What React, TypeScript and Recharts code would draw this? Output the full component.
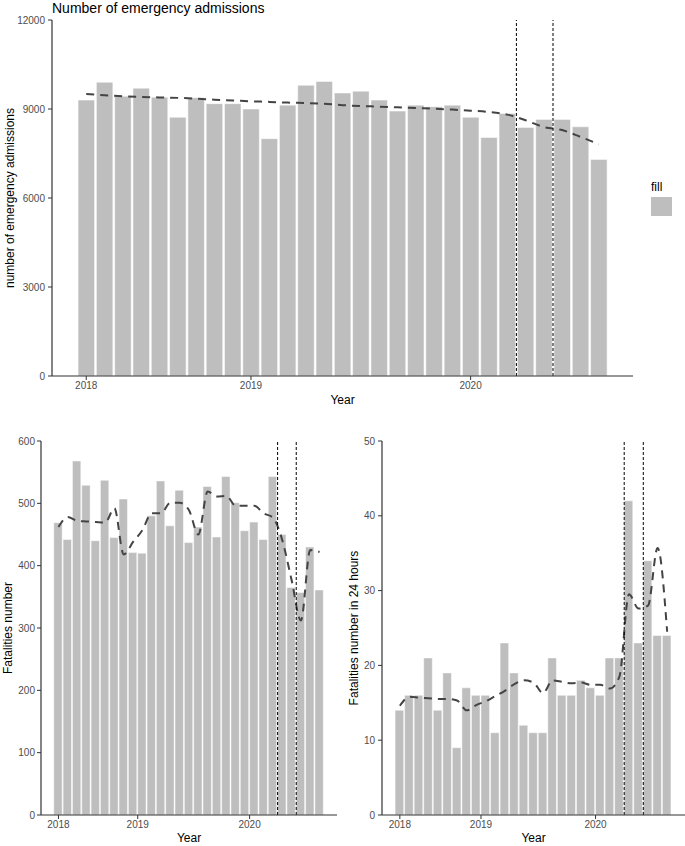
import React from 'react';
import { ComposedChart, Bar, Line, XAxis, YAxis, ReferenceLine } from 'recharts';

// monthly observations, bar positions 0..28 on the x scale
const admissions = [9300, 9900, 9430, 9700, 9400, 8720, 9380, 9180, 9180, 9000, 8000, 9130, 9800, 9930, 9540, 9600, 9300, 8930, 9130, 9080, 9130, 8720, 8040, 8850, 8380, 8650, 8650, 8400, 7300];
const admissionsTrend = [9505, 9465, 9430, 9405, 9390, 9375, 9350, 9315, 9290, 9260, 9240, 9215, 9200, 9175, 9130, 9100, 9080, 9055, 9030, 9010, 8980, 8945, 8900, 8810, 8620, 8390, 8290, 8060, 7810];

const fatalities = [469, 442, 568, 529, 440, 537, 445, 507, 421, 420, 480, 536, 464, 521, 437, 462, 527, 446, 543, 501, 456, 470, 442, 543, 450, 365, 357, 430, 361];
const fatalitiesTrend = [462, 478, 472, 471, 470, 469, 492, 418, 438, 457, 484, 484, 501, 501, 489, 450, 519, 511, 512, 496, 496, 496, 484, 477, 441, 377, 312, 425, 422];

const fatal24h = [14, 16, 16, 21, 14, 19, 9, 17, 16, 16, 11, 23, 19, 12, 11, 11, 21, 16, 16, 18, 17, 16, 21, 21, 42, 23, 34, 24, 24];
const fatal24hTrend = [14.6, 15.8, 15.7, 15.6, 15.5, 15.5, 15.3, 14.0, 14.7, 15.2, 15.9, 16.6, 17.5, 18.0, 17.7, 16.3, 18.0, 17.8, 17.6, 17.7, 17.4, 17.4, 16.9, 18.5, 29.5, 27.6, 28.0, 35.7, 24.5];

const yearLabels = ['2018', '2019', '2020'];
const topYearTicks = [0, 9, 21];
const bottomYearTicks = [0, 8.5, 20.5];

// lockdown period markers
const lockdownLines = [23.5, 25.5];

const X_DOMAIN: [number, number] = [-1.87, 29.87];
const FONT = '"Liberation Sans", Arial, sans-serif';
const BAR_GREY = '#bebebe';

const toRows = (values: number[], trend: number[]) =>
  values.map((v, i) => ({ x: i, value: v, trend: trend[i] }));

interface PanelProps {
  left: number;
  top: number;
  width: number;
  height: number;
  margin: { top: number; right: number; bottom: number; left: number };
  yAxisWidth: number;
  xAxisHeight: number;
  values: number[];
  trend: number[];
  yDomain: [number, number];
  yTicks: number[];
  xTicks: number[];
  tickMargin: number;
  yTitle: string;
  yTitleX: number;
  xTitleY: number;
  children?: React.ReactNode;
}

const Panel: React.FC<PanelProps> = (p) => {
  const plotW = p.width - p.margin.left - p.margin.right - p.yAxisWidth;
  const plotH = p.height - p.margin.top - p.margin.bottom - p.xAxisHeight;
  const barSize = (plotW / (X_DOMAIN[1] - X_DOMAIN[0])) * 0.9;
  const plotLeft = p.margin.left + p.yAxisWidth;
  const midY = p.margin.top + plotH / 2;
  const midX = plotLeft + plotW / 2;

  return (
    <div style={{ position: 'absolute', left: p.left, top: p.top }}>
      <ComposedChart width={p.width} height={p.height} data={toRows(p.values, p.trend)} margin={p.margin}>
        <XAxis
          type="number"
          dataKey="x"
          domain={X_DOMAIN}
          allowDataOverflow
          ticks={p.xTicks}
          tickFormatter={(v: number) => yearLabels[p.xTicks.indexOf(v)] ?? ''}
          height={p.xAxisHeight}
          tick={{ fontSize: 10, fill: '#4d4d4d', fontFamily: FONT }}
          tickSize={4}
          tickMargin={2}
          axisLine={{ stroke: '#333', strokeWidth: 1.2 }}
          tickLine={{ stroke: '#333' }}
        />
        <YAxis
          type="number"
          domain={p.yDomain}
          ticks={p.yTicks}
          width={p.yAxisWidth}
          tick={{ fontSize: 10, fill: '#4d4d4d', fontFamily: FONT }}
          tickSize={4}
          tickMargin={p.tickMargin}
          axisLine={{ stroke: '#333', strokeWidth: 1.2 }}
          tickLine={{ stroke: '#333' }}
        />
        <Bar dataKey="value" fill={BAR_GREY} stroke="#ffffff" strokeWidth={0.5} barSize={barSize} isAnimationActive={false} />
        <Line
          type="monotone"
          dataKey="trend"
          stroke="#444"
          strokeWidth={2}
          strokeDasharray="8 6"
          dot={false}
          activeDot={false}
          isAnimationActive={false}
        />
        {lockdownLines.map((x) => (
          <ReferenceLine key={x} x={x} stroke="#000" strokeWidth={1} strokeDasharray="3 2" />
        ))}
        <text
          transform={`translate(${p.yTitleX},${midY}) rotate(-90)`}
          textAnchor="middle"
          dominantBaseline="central"
          fontSize={12}
          fontFamily={FONT}
          fill="#000"
        >
          {p.yTitle}
        </text>
        <text x={midX} y={p.xTitleY} textAnchor="middle" fontSize={12} fontFamily={FONT} fill="#000">
          Year
        </text>
        {p.children}
      </ComposedChart>
    </div>
  );
};

export default function App() {
  return (
    <div style={{ position: 'absolute', left: 0, top: 0, width: 685, height: 846, background: '#fff', fontFamily: FONT }}>
      <Panel
        left={0}
        top={0}
        width={685}
        height={418}
        margin={{ top: 20, right: 52, bottom: 0, left: 0 }}
        yAxisWidth={52}
        xAxisHeight={42}
        values={admissions}
        trend={admissionsTrend}
        yDomain={[0, 12000]}
        yTicks={[0, 3000, 6000, 9000, 12000]}
        xTicks={topYearTicks}
        tickMargin={3}
        yTitle="number of emergency admissions"
        yTitleX={10}
        xTitleY={404}
      >
        <text x={52} y={13} fontSize={14} fontFamily={FONT} fill="#000">
          Number of emergency admissions
        </text>
        <text x={651} y={191} fontSize={12} fontFamily={FONT} fill="#000">
          fill
        </text>
        <rect x={651} y={197} width={21} height={19} fill={BAR_GREY} />
      </Panel>
      <Panel
        left={0}
        top={420}
        width={340}
        height={426}
        margin={{ top: 21, right: 3, bottom: 0, left: 0 }}
        yAxisWidth={41}
        xAxisHeight={31}
        values={fatalities}
        trend={fatalitiesTrend}
        yDomain={[0, 600]}
        yTicks={[0, 100, 200, 300, 400, 500, 600]}
        xTicks={bottomYearTicks}
        tickMargin={2}
        yTitle="Fatalities number"
        yTitleX={8}
        xTitleY={422}
      />
      <Panel
        left={340}
        top={420}
        width={345}
        height={426}
        margin={{ top: 21, right: 0, bottom: 0, left: 0 }}
        yAxisWidth={42}
        xAxisHeight={31}
        values={fatal24h}
        trend={fatal24hTrend}
        yDomain={[0, 50]}
        yTicks={[0, 10, 20, 30, 40, 50]}
        xTicks={bottomYearTicks}
        tickMargin={3}
        yTitle="Fatalities number in 24 hours"
        yTitleX={14}
        xTitleY={422}
      />
    </div>
  );
}
